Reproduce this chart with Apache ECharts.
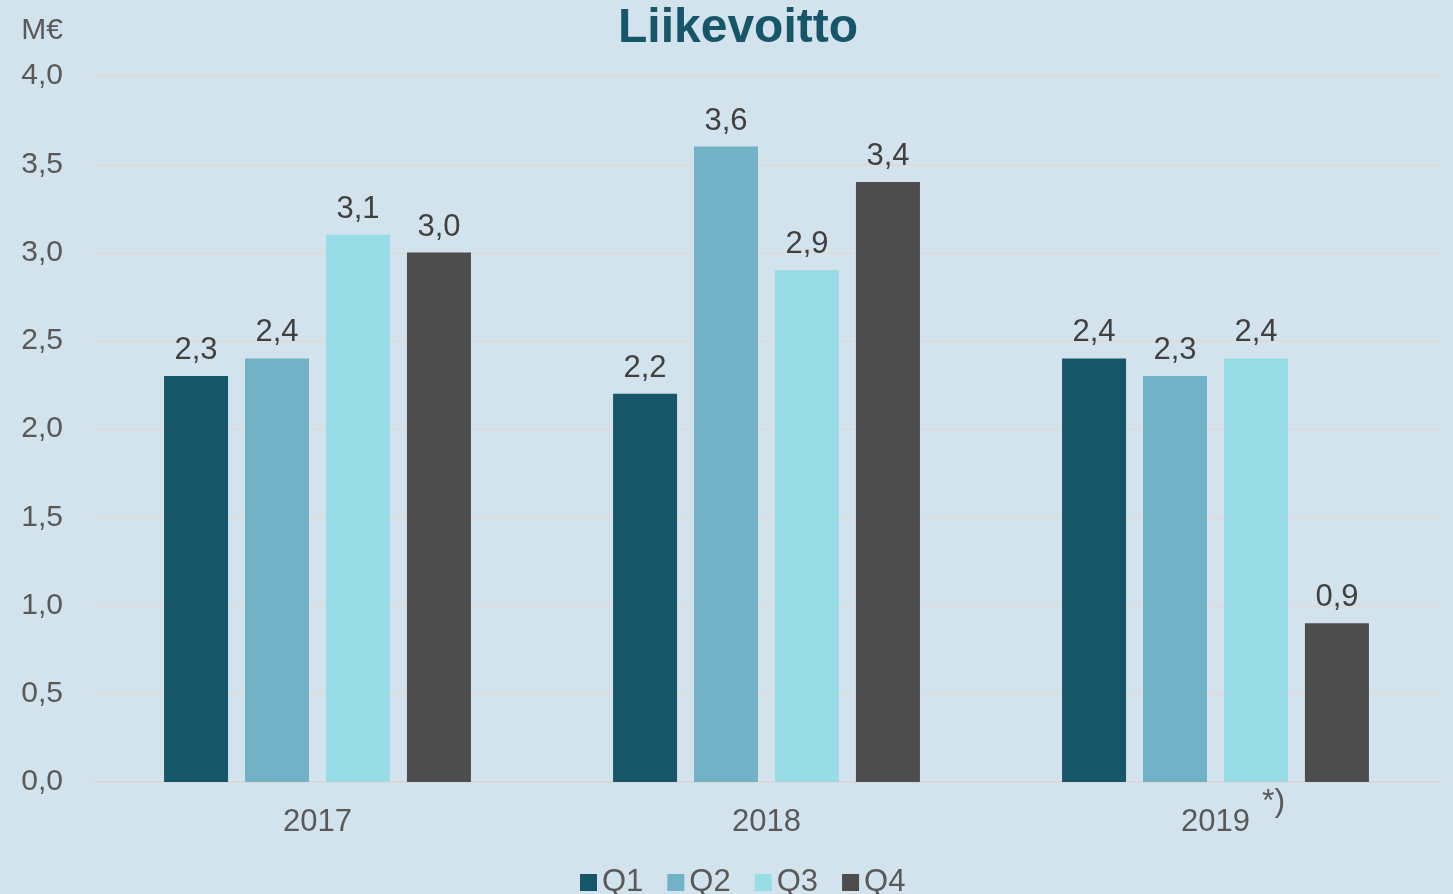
<!DOCTYPE html>
<html><head><meta charset="utf-8">
<script src="https://cdn.jsdelivr.net/npm/echarts@6/dist/echarts.min.js"></script>
<style>html,body{margin:0;padding:0;background:#d3e3ed;}#c{width:1453px;height:894px;}</style>
</head><body><div id="c"></div>
<script>
const categories = ['2017', '2018', '2019'];
const seriesNames = ['Q1', 'Q2', 'Q3', 'Q4'];
const q1 = [2.3, 2.2, 2.4];
const q2 = [2.4, 3.6, 2.3];
const q3 = [3.1, 2.9, 2.4];
const q4 = [3.0, 3.4, 0.9];
const colors = ['#165668', '#72b2c6', '#98dce6', '#4d4d4d'];
const values = [q1, q2, q3, q4];
const font = 'Liberation Sans, Arial, sans-serif';

const chart = echarts.init(document.getElementById('c'));
chart.setOption({
  backgroundColor: '#d3e3ed',
  animation: false,
  title: {
    text: 'Liikevoitto', left: 613, top: 0,
    textStyle: { fontFamily: font, fontSize: 48, fontWeight: 'bold', color: '#165668' }
  },
  legend: {
    bottom: -9, left: 575, itemWidth: 17, itemHeight: 17, itemGap: 24,
    icon: 'rect',
    textStyle: { fontFamily: font, fontSize: 31, color: '#595959', padding: [0, 0, 0, 0] },
    data: seriesNames
  },
  grid: { left: 93, right: 13, top: 76, bottom: 112 },
  xAxis: {
    type: 'category', data: categories,
    axisLine: { show: true, lineStyle: { color: '#d9d9d9', width: 2 } },
    axisTick: { show: false },
    axisLabel: { fontFamily: font, fontSize: 31, color: '#595959', margin: 25 }
  },
  yAxis: {
    type: 'value', min: 0, max: 4, interval: 0.5,
    name: 'M€', nameLocation: 'end', nameGap: 30,
    nameTextStyle: { fontFamily: font, fontSize: 30, color: '#595959', align: 'right', padding: [0, 30, 0, 0] },
    axisLine: { show: false }, axisTick: { show: false },
    splitLine: { lineStyle: { color: '#dcdcdc', width: 2 } },
    axisLabel: {
      fontFamily: font, fontSize: 30, color: '#595959', margin: 30,
      formatter: v => v.toFixed(1).replace('.', ',')
    }
  },
  series: seriesNames.map((n, i) => ({
    name: n, type: 'bar', data: values[i], barWidth: 64, barGap: '26.5%',
    itemStyle: { color: colors[i] },
    label: {
      show: true, position: 'top', distance: 10,
      fontFamily: font, fontSize: 31, color: '#404040',
      formatter: p => p.value.toFixed(1).replace('.', ',')
    }
  })),
  graphic: [{
    type: 'text', left: 1262, top: 786,
    style: { text: '*)', fontFamily: font, fontSize: 32, fill: '#595959' }
  }]
});
</script></body></html>
